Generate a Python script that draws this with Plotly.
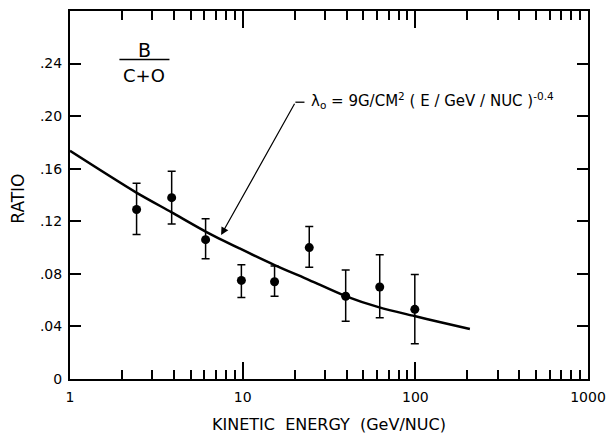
import math
import plotly.graph_objects as go

# Measured B/(C+O) ratio versus kinetic energy per nucleon
energy = [2.43, 3.88, 6.1, 9.83, 15.3, 24.3, 39.5, 62.2, 99.3]
ratio = [0.129, 0.138, 0.106, 0.075, 0.074, 0.100, 0.063, 0.070, 0.053]
ratio_upper = [0.149, 0.158, 0.122, 0.087, 0.086, 0.116, 0.083, 0.0945, 0.0796]
ratio_lower = [0.110, 0.118, 0.0915, 0.062, 0.063, 0.085, 0.044, 0.0466, 0.0268]

# Propagation model curve (escape length 9 g/cm^2 * E^-0.4)
curve_energy = [1, 2.41, 3.88, 6.14, 9.6, 15.3, 24.3, 39.4, 61.9, 98.8, 138, 207]
curve_ratio = [0.1736, 0.142, 0.1268, 0.112, 0.0993, 0.0867, 0.0753,
               0.0631, 0.0545, 0.0479, 0.0433, 0.038]

y_ticks = [0, 0.04, 0.08, 0.12, 0.16, 0.20, 0.24]
y_tick_text = ["0", ".04", ".08", ".12", ".16", ".20", ".24"]
x_ticks = [1, 10, 100, 1000]
x_tick_text = ["1", "10", "100", "1000"]
x_minor_ticks = [m * d for d in (1, 10, 100) for m in range(2, 10)]

FONT = "DejaVu Sans"

err_plus = [u - r for u, r in zip(ratio_upper, ratio)]
err_minus = [r - l for r, l in zip(ratio, ratio_lower)]

fig = go.Figure()

fig.add_trace(go.Scatter(
    x=curve_energy, y=curve_ratio, mode="lines",
    line=dict(color="black", width=2.5, shape="spline", smoothing=0.8),
    hoverinfo="skip", showlegend=False,
))

fig.add_trace(go.Scatter(
    x=energy, y=ratio, mode="markers",
    marker=dict(color="black", size=9),
    error_y=dict(type="data", symmetric=False, array=err_plus,
                 arrayminus=err_minus, color="black", thickness=1.5, width=4),
    showlegend=False,
))

# Leader line of the model label: short horizontal dash
label_e0, label_e1, label_y = 20.2, 22.8, 0.2106
fig.add_trace(go.Scatter(
    x=[label_e0, label_e1], y=[label_y, label_y], mode="lines",
    line=dict(color="black", width=1.3), hoverinfo="skip", showlegend=False,
))

# Arrow from the label down to the curve
fig.add_annotation(
    x=math.log10(7.5), y=0.1095, xref="x", yref="y",
    ax=math.log10(label_e0), ay=label_y, axref="x", ayref="y",
    text="", showarrow=True, arrowhead=2, arrowsize=1.3, arrowwidth=1.2,
    arrowcolor="black",
)

fig.add_annotation(
    x=math.log10(24.35), y=label_y + 0.0015, xref="x", yref="y",
    xanchor="left", yanchor="middle", showarrow=False,
    text="λ<sub>o</sub> = 9G/CM<sup>2</sup> ( E / GeV / NUC )<sup>-0.4</sup>",
    font=dict(family=FONT, size=15, color="black"),
)

# B / (C+O) fraction label
frac_x = math.log10(2.69)
fig.add_annotation(x=frac_x, y=0.2506, xref="x", yref="y",
                   text="B", showarrow=False,
                   font=dict(family=FONT, size=19, color="black"))
fig.add_annotation(x=frac_x, y=0.2312, xref="x", yref="y",
                   text="C+O", showarrow=False,
                   font=dict(family=FONT, size=18, color="black"))
fig.add_shape(type="line", xref="paper", yref="y",
              x0=0.0954, x1=0.192, y0=0.2431, y1=0.2431,
              line=dict(color="black", width=1.5))

# Axis titles
fig.add_annotation(x=0.5, y=-0.1223, xref="paper", yref="paper",
                   text="KINETIC  ENERGY  (GeV/NUC)", showarrow=False,
                   xanchor="center", yanchor="middle",
                   font=dict(family=FONT, size=16, color="black"))
fig.add_annotation(x=-0.101, y=0.489, xref="paper", yref="paper",
                   text="RATIO", showarrow=False, textangle=-90,
                   xanchor="center", yanchor="middle",
                   font=dict(family=FONT, size=17, color="black"))

fig.update_xaxes(
    type="log", range=[0, 3], automargin=False,
    tickmode="array", tickvals=x_ticks, ticktext=x_tick_text,
    ticks="inside", ticklen=17, tickwidth=1.5, tickcolor="black",
    ticklabelstandoff=4,
    minor=dict(tickmode="array", tickvals=x_minor_ticks, ticks="inside",
               ticklen=9, tickwidth=1.5, tickcolor="black", showgrid=False),
    showline=True, linecolor="black", linewidth=2, mirror="allticks",
    showgrid=False, zeroline=False,
    tickfont=dict(family=FONT, size=14, color="black"),
)
fig.update_yaxes(
    range=[0, 0.28], automargin=False,
    tickmode="array", tickvals=y_ticks, ticktext=y_tick_text,
    ticks="inside", ticklen=11, tickwidth=1.5, tickcolor="black",
    ticklabelstandoff=3,
    showline=True, linecolor="black", linewidth=2, mirror="allticks",
    showgrid=False, zeroline=False,
    tickfont=dict(family=FONT, size=14, color="black"),
)

fig.update_layout(
    width=608, height=434,
    margin=dict(l=70, r=20, t=11, b=55),
    paper_bgcolor="white", plot_bgcolor="white",
    showlegend=False,
)

fig.write_html("out.html")
